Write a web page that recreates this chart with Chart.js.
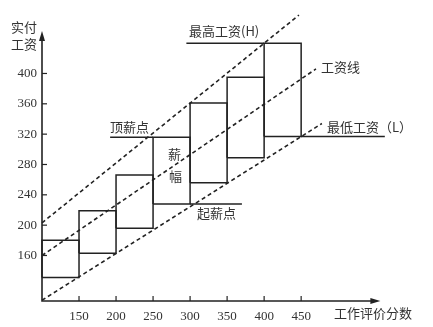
<!DOCTYPE html>
<html><head><meta charset="utf-8">
<script src="https://cdn.jsdelivr.net/npm/chart.js@4/dist/chart.umd.min.js"></script>
<style>html,body{margin:0;padding:0;background:#fff;overflow:hidden}</style>
</head><body>
<canvas id="c" width="433" height="327"></canvas>
<script>
// ---- data ----
const gradeEdges = [100, 150, 200, 250, 300, 350, 400, 450];
const maxPay = [180, 219, 266, 316, 361, 395, 440];
const minPay = [131, 163, 196, 228, 256, 289, 317];
const xTicks = [150, 200, 250, 300, 350, 400, 450];
const yTicks = [160, 200, 240, 280, 320, 360, 400];
const highLineX = [100, 447], highLineY = [203, 477];
const midLineX = [100, 470], midLineY = [160, 406];
const lowLineX = [100, 478], lowLineY = [101, 334];
// extension lines: [x0, x1, y]
const topPointLine = [192, 250, 316];
const startPointLine = [300, 370, 228];
const highLabelLine = [295, 400, 440];
const lowLabelLine = [450, 563, 317];

const INK = '#222';
const datasets = [];
for (let i = 0; i < maxPay.length; i++) {
  const x0 = gradeEdges[i], x1 = gradeEdges[i + 1];
  datasets.push({
    data: [{x:x0,y:minPay[i]},{x:x0,y:maxPay[i]},{x:x1,y:maxPay[i]},{x:x1,y:minPay[i]},{x:x0,y:minPay[i]}],
    showLine: true, borderColor: INK, borderWidth: 1.5, pointRadius: 0, fill: false, tension: 0, clip: false
  });
}
[topPointLine, startPointLine, highLabelLine, lowLabelLine].forEach(l => {
  datasets.push({ data: [{x:l[0],y:l[2]},{x:l[1],y:l[2]}], showLine: true, borderColor: INK,
    borderWidth: 1.5, pointRadius: 0, fill: false, clip: false });
});
[[highLineX, highLineY], [midLineX, midLineY], [lowLineX, lowLineY]].forEach(([xs, ys]) => {
  datasets.push({ data: xs.map((x, i) => ({x, y: ys[i]})), showLine: true, borderColor: INK,
    borderWidth: 1.6, borderDash: [4, 3], pointRadius: 0, fill: false, clip: false });
});

const SERIF = '"Liberation Serif", "Noto Sans CJK SC", serif';
const CJK = '"Noto Sans CJK SC", "Liberation Serif", sans-serif';

const decor = {
  id: 'decor',
  afterDatasetsDraw(chart) {
    const ctx = chart.ctx, xs = chart.scales.x, ys = chart.scales.y;
    const ox = xs.getPixelForValue(100), oy = ys.getPixelForValue(100);
    const xEnd = xs.getPixelForValue(557), yEnd = ys.getPixelForValue(456);
    ctx.save();
    ctx.strokeStyle = INK; ctx.fillStyle = INK; ctx.lineWidth = 1.6;
    ctx.beginPath();
    ctx.moveTo(ox, yEnd + 8); ctx.lineTo(ox, oy); ctx.lineTo(xEnd - 8, oy);
    ctx.stroke();
    // arrows
    ctx.beginPath();
    ctx.moveTo(ox, yEnd); ctx.lineTo(ox - 3, yEnd + 10); ctx.lineTo(ox + 3, yEnd + 10); ctx.closePath(); ctx.fill();
    ctx.beginPath();
    ctx.moveTo(xEnd, oy); ctx.lineTo(xEnd - 10, oy - 3); ctx.lineTo(xEnd - 10, oy + 3); ctx.closePath(); ctx.fill();
    // tick marks (inward)
    ctx.lineWidth = 1.2;
    xTicks.forEach(v => { const p = xs.getPixelForValue(v); ctx.beginPath(); ctx.moveTo(p, oy); ctx.lineTo(p, oy - 5); ctx.stroke(); });
    yTicks.forEach(v => { const p = ys.getPixelForValue(v); ctx.beginPath(); ctx.moveTo(ox, p); ctx.lineTo(ox + 5, p); ctx.stroke(); });
    // labels
    ctx.font = '13px ' + CJK; ctx.textBaseline = 'middle'; ctx.textAlign = 'left';
    ctx.fillStyle = '#333';
    ctx.fillText('实付', 11, 27);
    ctx.fillText('工资', 11, 44);
    ctx.fillText('最高工资(H)', 189, 31);
    ctx.fillText('工资线', 321, 67);
    ctx.fillText('最低工资（L）', 327, 127);
    ctx.fillText('顶薪点', 110, 127);
    ctx.fillText('薪', 168, 154);
    ctx.fillText('幅', 169, 176);
    ctx.fillText('起薪点', 197, 213);
    ctx.fillText('工作评价分数', 334, 313);
    ctx.restore();
  }
};

new Chart(document.getElementById('c'), {
  type: 'scatter',
  data: { datasets },
  options: {
    responsive: false, animation: false, devicePixelRatio: 1,
    layout: { padding: { top: 10, right: 43, bottom: 0, left: 0 } },
    plugins: { legend: { display: false }, tooltip: { enabled: false } },
    scales: {
      x: {
        type: 'linear', min: 100, max: 570,
        afterBuildTicks: s => { s.ticks = xTicks.map(v => ({ value: v })); },
        afterFit: s => { s.height = 26; },
        grid: { display: false, drawTicks: false }, border: { display: false },
        ticks: { font: { family: SERIF, size: 13 }, color: '#333', padding: 8, maxRotation: 0, autoSkip: false }
      },
      y: {
        type: 'linear', min: 100, max: 480,
        afterBuildTicks: s => { s.ticks = yTicks.map(v => ({ value: v })); },
        afterFit: s => { s.width = 42; },
        grid: { display: false, drawTicks: false }, border: { display: false },
        ticks: { font: { family: SERIF, size: 13 }, color: '#333', padding: 5, autoSkip: false }
      }
    }
  },
  plugins: [decor]
});
</script>
</body></html>
